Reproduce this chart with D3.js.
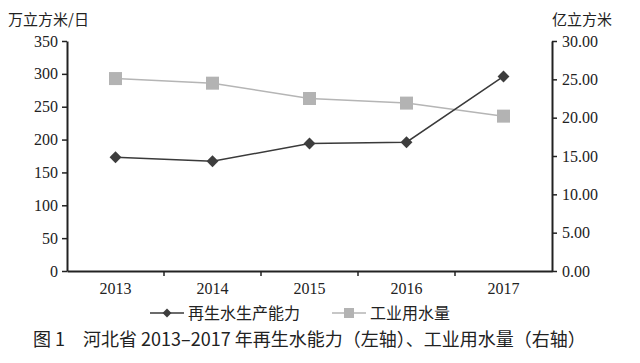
<!DOCTYPE html>
<html>
<head>
<meta charset="utf-8">
<script src="https://cdn.jsdelivr.net/npm/d3@7"></script>
<style>
  body { margin: 0; background: #fff; }
</style>
</head>
<body>
<div id="chart"></div>
<script>
// data
var years = ["2013", "2014", "2015", "2016", "2017"];
var recycled = [173, 167, 194, 196, 296];           // 再生水生产能力, 万立方米/日 (left axis)
var industrial = [25.1, 24.5, 22.5, 21.9, 20.2];    // 工业用水量, 亿立方米 (right axis)
var leftTicks = [0, 50, 100, 150, 200, 250, 300, 350];
var rightTicks = [0, 5, 10, 15, 20, 25, 30];

var svgWidth = 640, svgHeight = 363;
var margin = { top: 41, right: 88, bottom: 92, left: 67 };
var width = svgWidth - margin.left - margin.right;
var height = svgHeight - margin.top - margin.bottom;
var serif = "'Liberation Serif', 'DejaVu Serif', serif";
var cjk = "'Noto Sans CJK SC', sans-serif";

var svg = d3.select("#chart").append("svg")
  .attr("width", svgWidth)
  .attr("height", svgHeight);

var chartGroup = svg.append("g")
  .attr("transform", `translate(${margin.left}, ${margin.top})`);

var xScale = d3.scaleBand().domain(years).range([0, width]);
var yLeft = d3.scaleLinear().domain([0, 350]).range([height, 0]);
var yRight = d3.scaleLinear().domain([0, 30]).range([height, 0]);

function styleAxis(g) {
  g.attr("font-family", serif).attr("font-size", 16);
  g.select(".domain").attr("stroke", "#222").attr("stroke-width", 2);
  g.selectAll(".tick line").attr("stroke", "#222").attr("stroke-width", 1.5);
  g.selectAll(".tick text").attr("fill", "#222");
}

// axes
var bottomAxis = d3.axisBottom(xScale).tickSize(0).tickPadding(12);
var xg = chartGroup.append("g")
  .attr("transform", `translate(0, ${height})`)
  .call(bottomAxis);
styleAxis(xg);
// tick marks between bands
xg.selectAll(".sep")
  .data(years.slice(1))
  .enter()
  .append("line")
  .attr("x1", d => xScale(d))
  .attr("x2", d => xScale(d))
  .attr("y1", 0)
  .attr("y2", 5)
  .attr("stroke", "#222")
  .attr("stroke-width", 1.5);

var leftAxis = d3.axisLeft(yLeft).tickValues(leftTicks).tickSize(5).tickPadding(4).tickSizeOuter(0);
var lg = chartGroup.append("g").call(leftAxis);
styleAxis(lg);

var rightAxis = d3.axisRight(yRight).tickValues(rightTicks).tickSize(5).tickPadding(5).tickSizeOuter(0)
  .tickFormat(d3.format(".2f"));
var rg = chartGroup.append("g")
  .attr("transform", `translate(${width}, 0)`)
  .call(rightAxis);
styleAxis(rg);

var cx = d => xScale(d) + xScale.bandwidth() / 2;

// industrial water line (right axis)
var lineR = d3.line()
  .x((d, i) => cx(years[i]))
  .y(d => yRight(d));
chartGroup.append("path")
  .datum(industrial)
  .attr("fill", "none")
  .attr("stroke", "#b5b5b5")
  .attr("stroke-width", 1.5)
  .attr("d", lineR);
chartGroup.selectAll(".sq")
  .data(industrial)
  .enter()
  .append("rect")
  .attr("x", (d, i) => cx(years[i]) - 6.5)
  .attr("y", d => yRight(d) - 6.5)
  .attr("width", 13)
  .attr("height", 13)
  .attr("fill", "#b3b3b3");

// recycled water line (left axis)
var lineL = d3.line()
  .x((d, i) => cx(years[i]))
  .y(d => yLeft(d));
chartGroup.append("path")
  .datum(recycled)
  .attr("fill", "none")
  .attr("stroke", "#3a3a3a")
  .attr("stroke-width", 1.5)
  .attr("d", lineL);
var diamond = d3.symbol().type(d3.symbolDiamond2).size(90);
chartGroup.selectAll(".dm")
  .data(recycled)
  .enter()
  .append("path")
  .attr("d", diamond)
  .attr("transform", (d, i) => `translate(${cx(years[i])}, ${yLeft(d)})`)
  .attr("fill", "#3d3d3d");

// unit labels
svg.append("text")
  .attr("x", 8)
  .attr("y", 25)
  .style("font-family", cjk)
  .style("font-size", "15px")
  .attr("fill", "#222")
  .text("万立方米/日");
svg.append("text")
  .attr("x", 552)
  .attr("y", 25)
  .style("font-family", cjk)
  .style("font-size", "15px")
  .attr("fill", "#222")
  .text("亿立方米");

// legend
var legend = svg.append("g").attr("transform", "translate(0, 313)");
legend.append("line").attr("x1", 150).attr("x2", 184).attr("y1", 0).attr("y2", 0)
  .attr("stroke", "#3a3a3a").attr("stroke-width", 1.5);
legend.append("path").attr("d", diamond).attr("transform", "translate(167, 0) scale(0.75)")
  .attr("fill", "#3d3d3d");
legend.append("text").attr("x", 188).attr("y", 6)
  .style("font-family", cjk).style("font-size", "16px").attr("fill", "#222")
  .text("再生水生产能力");
legend.append("line").attr("x1", 332).attr("x2", 366).attr("y1", 0).attr("y2", 0)
  .attr("stroke", "#b5b5b5").attr("stroke-width", 1.5);
legend.append("rect").attr("x", 344).attr("y", -5).attr("width", 10).attr("height", 10)
  .attr("fill", "#b3b3b3");
legend.append("text").attr("x", 370).attr("y", 6)
  .style("font-family", cjk).style("font-size", "16px").attr("fill", "#222")
  .text("工业用水量");

// caption
svg.append("text")
  .attr("x", 33)
  .attr("y", 346)
  .style("font-family", cjk)
  .style("font-size", "18px")
  .attr("fill", "#222")
  .text("图 1\u3000河北省 2013–2017 年再生水能力\uff08左轴\uff09、工业用水量\uff08右轴\uff09");
</script>
</body>
</html>
